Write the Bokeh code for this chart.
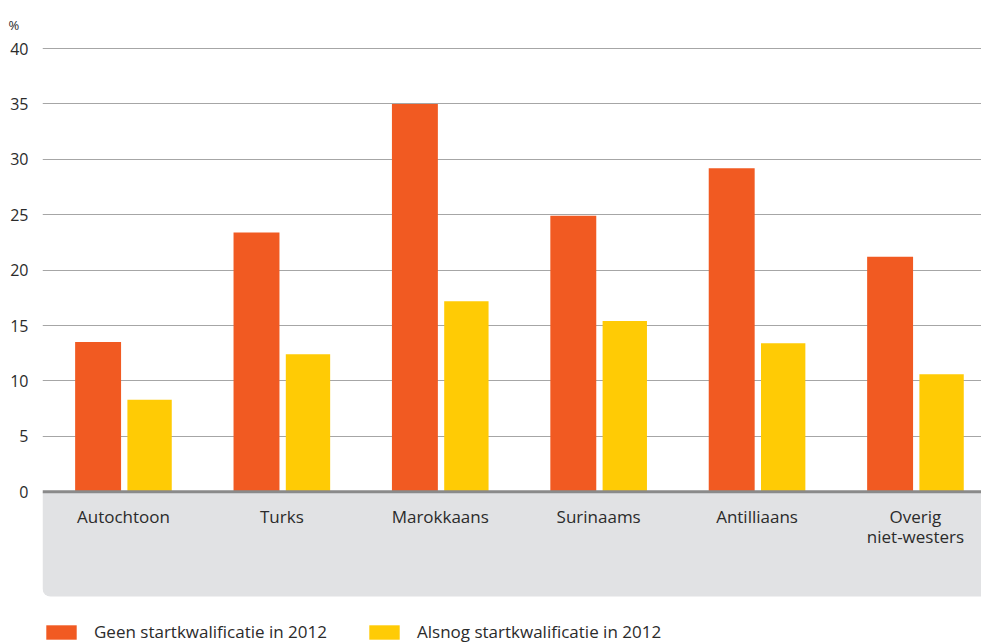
from bokeh.plotting import figure
from bokeh.models import (ColumnDataSource, FixedTicker, Legend, LegendItem,
                          BoxAnnotation, Range1d, Span)
from bokeh.core.properties import value
from bokeh.transform import dodge
from bokeh.embed import file_html
from bokeh.resources import INLINE

categories = ["Autochtoon", "Turks", "Marokkaans", "Surinaams", "Antilliaans", "Overig\nniet-westers"]
geen = [13.5, 23.4, 35.0, 24.9, 29.2, 21.2]
alsnog = [8.3, 12.4, 17.2, 15.4, 13.4, 10.6]
y_ticks = [0, 5, 10, 15, 20, 25, 30, 35, 40]
series_names = ["Geen startkwalificatie in 2012", "Alsnog startkwalificatie in 2012"]
unit_label = "%"

ORANGE = "#F15A22"
YELLOW = "#FFCB05"
FONT = "Open Sans"
TXT = "#2b2b2b"

xpos = list(range(len(categories)))
src = ColumnDataSource(dict(x=xpos, geen=geen, alsnog=alsnog, cat=categories))

p = figure(width=981, height=643,
           x_range=Range1d(-0.511, 5.417), y_range=Range1d(-13.71, 40.1),
           output_backend="svg", toolbar_location=None,
           min_border_left=42, min_border_right=0, min_border_top=47,
           min_border_bottom=0, x_axis_location=None)
p.outline_line_color = None
p.background_fill_color = "white"

# grey band under the axis
band = BoxAnnotation(top=0, bottom=-9.47, fill_color="#E1E2E4", fill_alpha=1.0, line_color=None,
                     level="underlay",
                     border_radius=dict(top_left=0, top_right=0, bottom_right=0, bottom_left=8))
p.add_layout(band)

r1 = p.vbar(x=dodge("x", -0.16, range=p.x_range), top="geen", width=0.29, bottom=0,
            source=src, fill_color=ORANGE, line_color=None)
r2 = p.vbar(x=dodge("x", 0.165, range=p.x_range), top="alsnog", width=0.28, bottom=0,
            source=src, fill_color=YELLOW, line_color=None)

# zero line
p.add_layout(Span(location=0, dimension="width", line_color="#8A8A8A", line_width=3))

# category labels inside the grey band
p.text(x="x", y=-1.2, text="cat", source=src, text_align="center", text_baseline="top",
       text_font=value(FONT), text_font_size="17px", text_color=TXT, text_line_height=0.87)

# y axis
p.yaxis.ticker = FixedTicker(ticks=y_ticks)
p.yaxis.axis_line_color = None
p.yaxis.major_tick_line_color = None
p.yaxis.minor_tick_line_color = None
p.yaxis.major_label_text_font = FONT
p.yaxis.major_label_text_font_size = "16px"
p.yaxis.major_label_text_color = TXT
p.yaxis.major_label_standoff = 14
p.yaxis.major_tick_out = 0
p.yaxis.major_tick_in = 0

p.ygrid.ticker = FixedTicker(ticks=y_ticks[1:])
p.ygrid.grid_line_color = "#A6A6A6"
p.ygrid.grid_line_width = 1
p.xgrid.grid_line_color = None

p.title.text = unit_label
p.title.text_font = FONT
p.title.text_font_size = "13px"
p.title.text_font_style = "normal"
p.title.text_color = TXT
p.title.offset = -34
p.title.standoff = 27

legend = Legend(items=[LegendItem(label=series_names[0], renderers=[r1]),
                       LegendItem(label=series_names[1], renderers=[r2])],
                orientation="horizontal", location="bottom_left",
                glyph_width=38, glyph_height=18, label_height=18, label_text_font=FONT,
                label_text_font_size="17px", label_text_color=TXT,
                label_standoff=14, spacing=38, padding=0, margin=0,
                border_line_color=None, background_fill_alpha=0)
p.add_layout(legend)

open("out.html", "w").write(file_html(p, INLINE))
